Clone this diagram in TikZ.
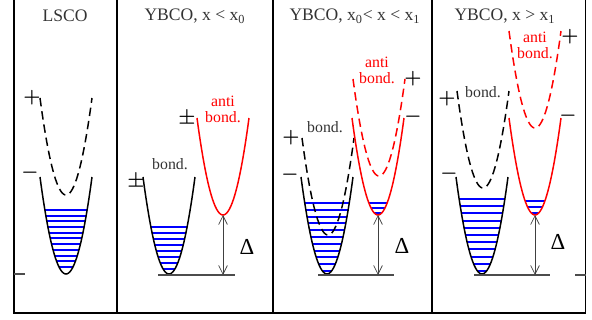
\documentclass[tikz,border=0pt]{standalone}
\usepackage{fontspec}
\setmainfont{Liberation Serif}
\usetikzlibrary{arrows.meta}

\begin{document}
\begin{tikzpicture}[x=0.02cm,y=-0.02cm,>={Straight Barb[length=5pt,width=5pt]},
  lbl/.style={font=\fontsize{10}{12}\selectfont,inner sep=0pt,text=black!80},
  sub/.style={font=\fontsize{9}{10}\selectfont,inner sep=0pt,text=black!80},
  sgn/.style={font=\fontsize{11}{12}\selectfont\boldmath,inner sep=0pt},
  gap/.style={font=\fontsize{13}{14}\selectfont,inner sep=0pt},
  solidb/.style={line width=0.85pt,black},
  dashb/.style={line width=0.85pt,black,dash pattern=on 4.8pt off 2.8pt},
  solidr/.style={line width=0.85pt,red},
  dashr/.style={line width=0.85pt,red,dash pattern=on 4.8pt off 2.8pt},
  level/.style={blue,line width=1.1pt},
  base/.style={black!70,line width=0.6pt}]
\useasboundingbox (0,0) rectangle (592,320);
% frame and panels
\draw[line width=0.6pt] (14,0) -- (14,313) -- (585.7,313) -- (585.7,0);
\foreach \x in {117,273,432} \draw[line width=0.6pt] (\x,0) -- (\x,313);
\draw[base] (14,274) -- (25,274) (575,275) -- (585.7,275);
% titles
\node[lbl] (t1) at (65,16) {LSCO};
\node[lbl] (t2) at (195,16) {YBCO, x < x\textsubscript{0}};
\node[lbl] (t3) at (355,16) {YBCO, x\textsubscript{0}< x < x\textsubscript{1}};
\node[lbl] (t4) at (505,16) {YBCO, x > x\textsubscript{1}};
% filled levels
\foreach \cx/\vy/\ytop/\st/\n in {66/274/210/5.7/11,169/274/227/6/8,327/274/203/6.8/11,378/215/203/5/3,482/274/199/7.2/11,535/215/201/6/3}
  \foreach \k in {1,...,\n} {
    \pgfmathsetmacro\yy{round(\ytop+(\k-1)*\st)}
    \pgfmathsetmacro\hw{26*sqrt(max(\vy-\yy,0.5)/97)}
    \draw[level] ({\cx-\hw},\yy) -- ({\cx+\hw},\yy);
  }
% bands
\foreach \cx/\vy/\s in {66/274/solidb,66/195/dashb,169/274/solidb,223/215/solidr,327/274/solidb,328/235/dashb,378/215/solidr,379/176/dashr,482/274/solidb,483/188/dashb,535/215/solidr,535/128/dashr}
  \draw[\s] plot[domain=-26:26,samples=41,smooth] ({\cx+\x},{\vy-97*(\x/26)^2});
% gaps
\foreach \i/\cx/\lo/\hi in {2/223/158/235,3/378/318/394,4/535/474/550} {
  \draw[base] (\lo,275) -- (\hi,275);
  \coordinate (v\i) at (\cx,215);
  \coordinate (b\i) at (\cx,275);
  \draw[<->,black!75] (v\i) -- (b\i);
}
\node[gap] (d2) at (247,247) {Δ};
\node[gap] (d3) at (402,246) {Δ};
\node[gap] (d4) at (558,242) {Δ};
% signs
\node[sgn] (p1) at (32,98) {$+$};
\node[sgn] (m1) at (30,173) {$-$};
\node[sgn] (pm2a) at (136,182) {$\pm$};
\node[sgn] (pm2b) at (187,119) {$\pm$};
\node[sgn] (p3a) at (291,138) {$+$};
\node[sgn] (m3a) at (290,175) {$-$};
\node[sgn] (p3b) at (413,79) {$+$};
\node[sgn] (m3b) at (413,117) {$-$};
\node[sgn] (p4a) at (447,99) {$+$};
\node[sgn] (m4a) at (449,174) {$-$};
\node[sgn] (p4b) at (570,37) {$+$};
\node[sgn] (m4b) at (568,116) {$-$};
% band labels
\node[sub] (bo2) at (170,164) {bond.};
\node[sub,text=red] (an2) at (223,101) {anti};
\node[sub,text=red] (ab2) at (223,117) {bond.};
\node[sub] (bo3) at (325,127) {bond.};
\node[sub,text=red] (an3) at (377,62) {anti};
\node[sub,text=red] (ab3) at (377,78) {bond.};
\node[sub] (bo4) at (483,92) {bond.};
\node[sub,text=red] (an4) at (535,37) {anti};
\node[sub,text=red] (ab4) at (535,53) {bond.};
\end{tikzpicture}
\end{document}
